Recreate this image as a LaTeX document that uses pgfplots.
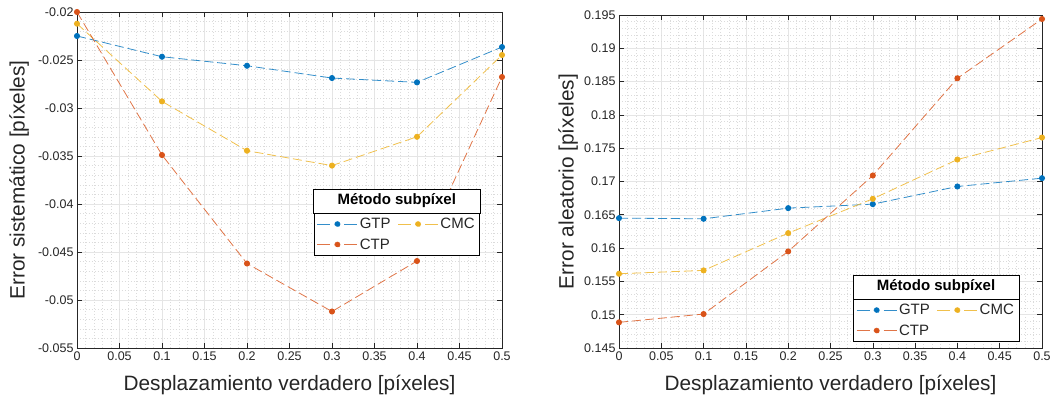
\documentclass[border=0pt]{standalone}
\usepackage{pgfplots}
\pgfplotsset{compat=1.18}
\usepackage{fontspec}
\setmainfont{Liberation Sans}

\definecolor{mblue}{RGB}{0,114,189}
\definecolor{morange}{RGB}{217,83,25}
\definecolor{myellow}{RGB}{237,177,32}
\definecolor{axgray}{RGB}{38,38,38}

\newcommand{\legfont}{\fontsize{15}{18}\selectfont}

\pgfplotsset{
  matlab/.style={
    scale only axis,
    xmin=0, xmax=0.5,
    xtick={0,0.05,...,0.5},
    minor x tick num=4,
    minor y tick num=4,
    grid=both,
    major grid style={line width=0.5pt, gray!20},
    minor grid style={line width=0.5pt, dash pattern=on 0.6pt off 2.4pt, gray!28},
    axis line style={axgray, line width=0.6pt},
    tick style={axgray, line width=0.6pt},
    major tick length=5pt,
    minor tick length=0pt,
    tick align=inside,
    ticklabel style={font=\fontsize{12.5}{15}\selectfont, text=axgray},
    /pgf/number format/assume math mode=true,
    xticklabel style={/pgf/number format/.cd, fixed, precision=2},
    yticklabel style={/pgf/number format/.cd, fixed, precision=3},
    scaled ticks=false,
    label style={font=\fontsize{20.8}{24}\selectfont, text=axgray},
    xlabel={Desplazamiento verdadero [píxeles]},
    xlabel style={at={(axis description cs:0.5,-0.11)}, anchor=center},
    legend columns=2,
    legend cell align=left,
    legend style={draw=black, line width=0.6pt, fill=white,
      font=\legfont, nodes={font=\legfont, text=axgray, inner sep=2pt},
      row sep=4.5pt, inner sep=3pt,
      /tikz/every even column/.append style={column sep=5pt}},
    legend image code/.code={
      \draw[solid] (0pt,0pt) -- (13pt,0pt);
      \draw[solid] (27pt,0pt) -- (40pt,0pt);
      \fill (20pt,0pt) circle (2.6pt);
    },
  },
  serie/.style={#1, line width=0.8pt, draw opacity=0.8,
    dash pattern=on 9pt off 4pt,
    mark=*, mark size=2.6pt, mark options={solid, draw opacity=1, fill=#1}},
}

\begin{document}
\begin{tikzpicture}
% Systematic error
\begin{axis}[matlab,
  width=425pt, height=336pt,
  ymin=-0.055, ymax=-0.02,
  ytick={-0.055,-0.05,...,-0.02},
  ylabel={Error sistemático [píxeles]},
  ylabel style={at={(axis description cs:-0.136,0.5)}, anchor=center},
  legend style={at={(rel axis cs:0.948,0.274)}, anchor=south east, name=legL},
]
\addplot[serie=mblue] coordinates {
  (0,-0.0225) (0.1,-0.02466) (0.2,-0.0256) (0.3,-0.02688) (0.4,-0.02733) (0.5,-0.02365)};
\addlegendentry{GTP}
\addplot[serie=myellow] coordinates {
  (0,-0.02122) (0.1,-0.02931) (0.2,-0.03445) (0.3,-0.0360) (0.4,-0.0330) (0.5,-0.02448)};
\addlegendentry{CMC}
\addplot[serie=morange] coordinates {
  (0,-0.0200) (0.1,-0.0349) (0.2,-0.0462) (0.3,-0.0512) (0.4,-0.04594) (0.5,-0.02677)};
\addlegendentry{CTP}
\end{axis}
\draw[black, line width=0.6pt, fill=white] (legL.north west) rectangle ([yshift=24pt]legL.north east);
\node[font=\legfont\bfseries, text=black] at ([yshift=12pt]legL.north) {Método subpíxel};

% Random error
\begin{axis}[matlab, at={(542pt,0pt)},
  width=423pt, height=333pt,
  ymin=0.145, ymax=0.195,
  ytick={0.145,0.15,...,0.1951},
  ylabel={Error aleatorio [píxeles]},
  ylabel style={at={(axis description cs:-0.12,0.5)}, anchor=center},
  legend style={at={(rel axis cs:0.946,0.018)}, anchor=south east, name=legR},
]
\addplot[serie=mblue] coordinates {
  (0,0.1645) (0.1,0.1644) (0.2,0.1660) (0.3,0.1666) (0.4,0.16925) (0.5,0.1705)};
\addlegendentry{GTP}
\addplot[serie=myellow] coordinates {
  (0,0.15615) (0.1,0.15665) (0.2,0.16225) (0.3,0.1674) (0.4,0.1733) (0.5,0.1766)};
\addlegendentry{CMC}
\addplot[serie=morange] coordinates {
  (0,0.14885) (0.1,0.1501) (0.2,0.1595) (0.3,0.1709) (0.4,0.1855) (0.5,0.1944)};
\addlegendentry{CTP}
\end{axis}
\draw[black, line width=0.6pt, fill=white] (legR.north west) rectangle ([yshift=24pt]legR.north east);
\node[font=\legfont\bfseries, text=black] at ([yshift=12pt]legR.north) {Método subpíxel};

\pgfresetboundingbox
\useasboundingbox (-77pt,-55pt) rectangle (985pt,348pt);
\end{tikzpicture}
\end{document}
